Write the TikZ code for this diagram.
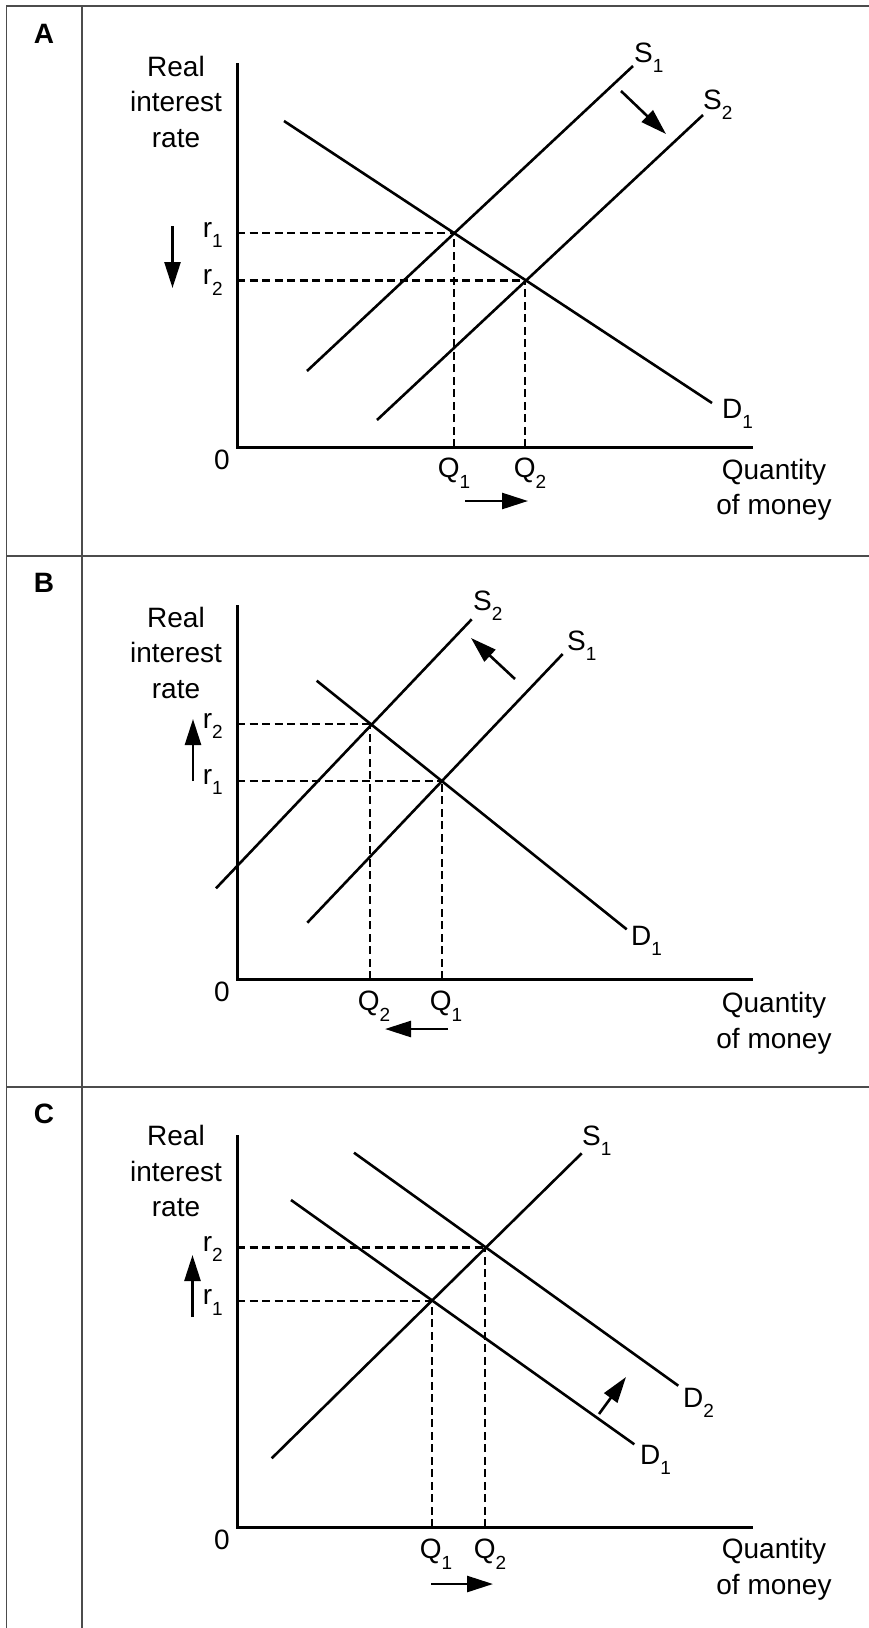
\documentclass[tikz,border=0pt]{standalone}
\usepackage{fontspec}
\setmainfont{Liberation Sans}
\usetikzlibrary{arrows.meta}
\newcommand{\lowidx}[1]{\raisebox{-10.5pt}{\fontsize{19}{19}\selectfont #1}}

\begin{document}
\begin{tikzpicture}[
x=1pt,y=-1pt,
rule/.style={draw=black!70,line width=1.5pt},
axis/.style={line width=3pt},
curve/.style={line width=2.6pt},
guide/.style={line width=2.3pt,dash pattern=on 8pt off 4.5pt},
move/.style={-{Triangle[length=26pt,width=16pt]},line width=2.6pt},
lbl/.style={inner sep=0pt,font=\fontsize{28}{35.5}\selectfont},
tag/.style={inner sep=0pt,font=\bfseries\fontsize{28}{34}\selectfont}
]
\useasboundingbox (0,0) rectangle (869,1628);
\fill[white] (0,0) rectangle (869,1628);

% table
\draw[rule] (869,6) -- (6.5,6) -- (6.5,1628);
\draw[rule] (82,6) -- (82,1628);
\draw[rule] (6.5,556) -- (869,556);
\draw[rule] (6.5,1087) -- (869,1087);

% panel A
\node[tag] (tagA) at (44,34) {A};
\coordinate (oA) at (237,447);
\coordinate (yA) at (237,63);
\coordinate (xA) at (753,447);
\draw[axis] (yA) -- (oA) -- (xA);
\coordinate (sA1lo) at (307,371); \coordinate (sA1hi) at (633,66);
\coordinate (sA2lo) at (377,420); \coordinate (sA2hi) at (703,115);
\coordinate (dA1hi) at (284,121); \coordinate (dA1lo) at (712,403);
\coordinate (eA1) at (454,233); \coordinate (eA2) at (525,280.5);
\draw[curve] (sA1lo) -- (sA1hi);
\draw[curve] (sA2lo) -- (sA2hi);
\draw[curve] (dA1hi) -- (dA1lo);
\draw[guide] (oA |- eA1) -- (eA1);
\draw[guide] (eA1 |- oA) -- (eA1);
\draw[guide] (oA |- eA2) -- (eA2);
\draw[guide] (eA2 |- oA) -- (eA2);
\node[lbl] (zA) at (222,460) {0};
\node[lbl,align=center,anchor=north] (ytA) at (176,56) {Real\\interest\\rate};
\node[lbl,align=center,anchor=north] (xtA) at (774,459) {Quantity\\of money};
\node[lbl,anchor=base east] (rA1) at (223,237) {r\lowidx{1}};
\node[lbl,anchor=base east] (rA2) at (223,284.5) {r\lowidx{2}};
\node[lbl,anchor=north] (qA1) at (454,458) {Q\lowidx{1}};
\node[lbl,anchor=north] (qA2) at (530,458) {Q\lowidx{2}};
\node[lbl,anchor=base west] (sA1) at (634,62) {S\lowidx{1}};
\node[lbl,anchor=base west] (sA2) at (703,109) {S\lowidx{2}};
\node[lbl,anchor=base west] (dA1) at (722,418) {D\lowidx{1}};
\coordinate (mA1) at (621,91); \coordinate (mA2) at (666,134);
\coordinate (vA1) at (172.5,226); \coordinate (vA2) at (172.5,288);
\coordinate (hA1) at (465,501); \coordinate (hA2) at (528,501);
\draw[move] (mA1) -- (mA2);
\draw[move] (vA1) -- (vA2);
\draw[move] (hA1) -- (hA2);

% panel B
\node[tag] (tagB) at (44,583) {B};
\coordinate (oB) at (237,979);
\coordinate (yB) at (237,605);
\coordinate (xB) at (753,979);
\draw[axis] (yB) -- (oB) -- (xB);
\coordinate (sB2lo) at (216,888.3); \coordinate (sB2hi) at (471.7,619.3);
\coordinate (sB1lo) at (307.3,922.7); \coordinate (sB1hi) at (562.7,654);
\coordinate (dB1hi) at (316.7,680.7); \coordinate (dB1lo) at (626.7,929.3);
\coordinate (eB2) at (370.3,724.3); \coordinate (eB1) at (441.7,781);
\draw[curve] (sB2lo) -- (sB2hi);
\draw[curve] (sB1lo) -- (sB1hi);
\draw[curve] (dB1hi) -- (dB1lo);
\draw[guide] (oB |- eB1) -- (eB1);
\draw[guide] (eB1 |- oB) -- (eB1);
\draw[guide] (oB |- eB2) -- (eB2);
\draw[guide] (eB2 |- oB) -- (eB2);
\node[lbl] (zB) at (222,992) {0};
\node[lbl,align=center,anchor=north] (ytB) at (176,607) {Real\\interest\\rate};
\node[lbl,align=center,anchor=north] (xtB) at (774,992) {Quantity\\of money};
\node[lbl,anchor=base east] (rB2) at (223,728) {r\lowidx{2}};
\node[lbl,anchor=base east] (rB1) at (223,784) {r\lowidx{1}};
\node[lbl,anchor=north] (qB2) at (374,991) {Q\lowidx{2}};
\node[lbl,anchor=north] (qB1) at (446,991) {Q\lowidx{1}};
\node[lbl,anchor=base west] (sB2) at (473,610) {S\lowidx{2}};
\node[lbl,anchor=base west] (sB1) at (567,650) {S\lowidx{1}};
\node[lbl,anchor=base west] (dB1) at (631,945) {D\lowidx{1}};
\coordinate (mB1) at (515,679); \coordinate (mB2) at (471,638);
\coordinate (vB1) at (193,781); \coordinate (vB2) at (193,719);
\coordinate (hB1) at (448,1029); \coordinate (hB2) at (385,1029);
\draw[move] (mB1) -- (mB2);
\draw[move] (vB1) -- (vB2);
\draw[move] (hB1) -- (hB2);

% panel C
\node[tag] (tagC) at (44,1114) {C};
\coordinate (oC) at (237,1527);
\coordinate (yC) at (237,1135);
\coordinate (xC) at (753,1527);
\draw[axis] (yC) -- (oC) -- (xC);
\coordinate (sC1lo) at (271.7,1458.3); \coordinate (sC1hi) at (581.7,1153.3);
\coordinate (dC1hi) at (291,1200); \coordinate (dC1lo) at (634.3,1444.3);
\coordinate (dC2hi) at (354,1152.7); \coordinate (dC2lo) at (678.3,1385.7);
\coordinate (eC1) at (432.3,1300.7); \coordinate (eC2) at (485,1247.5);
\draw[curve] (sC1lo) -- (sC1hi);
\draw[curve] (dC1hi) -- (dC1lo);
\draw[curve] (dC2hi) -- (dC2lo);
\draw[guide] (oC |- eC1) -- (eC1);
\draw[guide] (eC1 |- oC) -- (eC1);
\draw[guide] (oC |- eC2) -- (eC2);
\draw[guide] (eC2 |- oC) -- (eC2);
\node[lbl] (zC) at (222,1540) {0};
\node[lbl,align=center,anchor=north] (ytC) at (176,1125) {Real\\interest\\rate};
\node[lbl,align=center,anchor=north] (xtC) at (774,1538) {Quantity\\of money};
\node[lbl,anchor=base east] (rC2) at (223,1251) {r\lowidx{2}};
\node[lbl,anchor=base east] (rC1) at (223,1304.5) {r\lowidx{1}};
\node[lbl,anchor=north] (qC1) at (436,1539) {Q\lowidx{1}};
\node[lbl,anchor=north] (qC2) at (490,1539) {Q\lowidx{2}};
\node[lbl,anchor=base west] (sC1) at (582,1145) {S\lowidx{1}};
\node[lbl,anchor=base west] (dC2) at (683,1407) {D\lowidx{2}};
\node[lbl,anchor=base west] (dC1) at (640,1464) {D\lowidx{1}};
\coordinate (mC1) at (599,1414); \coordinate (mC2) at (626,1377);
\coordinate (vC1) at (192.5,1317); \coordinate (vC2) at (192.5,1255);
\coordinate (hC1) at (431,1584); \coordinate (hC2) at (493,1584);
\draw[move] (mC1) -- (mC2);
\draw[move] (vC1) -- (vC2);
\draw[move] (hC1) -- (hC2);
\end{tikzpicture}
\end{document}
